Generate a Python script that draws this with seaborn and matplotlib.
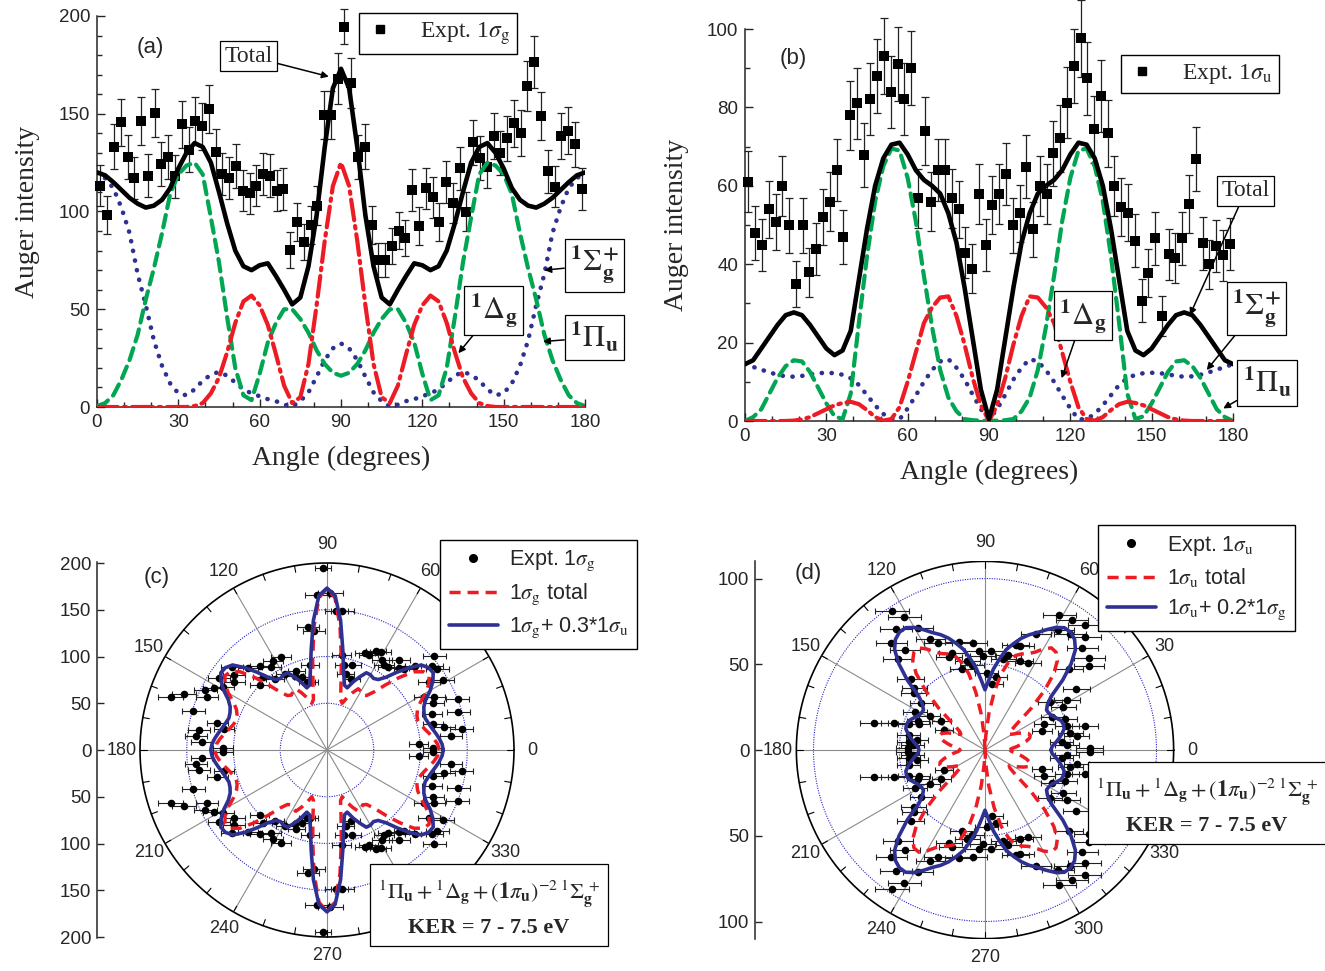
import numpy as np
import matplotlib
matplotlib.use("Agg")
import matplotlib.pyplot as plt
from matplotlib.lines import Line2D
from matplotlib.ticker import MultipleLocator
import seaborn as sns

sns.set_style("ticks")
plt.rcParams["font.family"] = ["Liberation Sans", "DejaVu Sans"]
plt.rcParams["mathtext.fontset"] = "stix"
SERIF = ["Liberation Serif", "DejaVu Serif"]

GREEN = "#00a651"
RED = "#ed1c24"
NAVY = "#2e3192"
RING = "#2323c8"

# ---------------- data ----------------
bin_deg = np.arange(1.25, 180, 2.5)      # 72 angular bins of the measurement
curve_deg = np.arange(0, 91, 3)          # model curves, symmetric about 90 deg

# (a) 1sigma_g
expt_a = [113.2, 98.2, 133.2, 145.6, 128, 117, 146.3, 118.3, 150.2, 124.3,
          128, 118, 144.6, 131.5, 146.3, 143.7, 152.3, 130.6, 119.2, 117.3,
          123.3, 110.5, 109.3, 113.2, 119.2, 118.3, 110.5, 111.4, 80.3, 94.8,
          84.2, 93.1, 103, 149.4, 149.4, 168, 194.5, 165.6, 128, 133.2,
          93.1, 75.2, 75.2, 82.4, 90.2, 86.3, 111, 92.6, 111.8, 107.2,
          94.4, 114.9, 104.5, 122.1, 99.9, 135.4, 127.5, 122.9, 138.6, 130,
          137.4, 145.1, 140, 164.2, 176.6, 148.8, 120.7, 112.7, 138.6, 141.3,
          134.4, 111.5]
err_a = [10.6, 9.9, 11.5, 12.1, 11.3, 10.8, 12.1, 10.9, 12.3, 11.1,
         11.3, 10.9, 12.0, 11.5, 12.1, 12.0, 12.3, 11.4, 10.9, 10.8,
         11.1, 10.5, 10.5, 10.6, 10.9, 10.9, 10.5, 10.6, 9.0, 9.7,
         9.2, 9.6, 10.1, 12.2, 12.2, 13.0, 9.0, 12.9, 11.3, 11.5,
         9.6, 8.7, 8.7, 9.1, 9.5, 9.3, 10.5, 9.6, 10.6, 10.4,
         9.7, 10.7, 10.2, 11.0, 10.0, 11.6, 11.3, 11.1, 11.8, 11.4,
         11.7, 12.0, 11.8, 12.8, 13.3, 12.2, 11.0, 10.6, 11.8, 11.9,
         11.6, 10.6]
total_a = [120, 118.5, 115, 111, 107, 104, 102, 103, 106, 112, 122, 130, 135, 133, 125, 110,
           94, 80, 72, 70, 72.5, 73.5, 67, 60, 52.5, 56, 72, 98, 133, 163, 173]
sigma_a = [120, 117, 112, 102, 89, 68, 52, 34, 21, 12, 7, 6, 9, 13.5, 16.5, 18,
           16, 12.5, 9, 7, 5.5, 4, 3, 1.2, 0.2, 3, 7.5, 15.5, 24, 30, 32.5]
pi_a = [0.5, 2, 6, 14, 24, 37, 55, 71, 89, 109, 119, 123.5, 125, 119, 97, 74,
        46, 20, 6, 3.5, 17, 33, 43, 50, 50, 45, 38, 29, 22, 17.5, 16]
delta_a = [0, 0, 0, 0, 0, 0, 0, 0, 0, 0, 0, 0, 0.5, 2, 7, 15,
           28, 43, 54, 57, 52, 42, 27, 11, 2, 5, 22, 52, 85, 113, 125]

# (b) 1sigma_u
expt_b = [61, 47.9, 44.9, 54, 50.8, 60, 49.9, 35, 49.9, 37.9,
          43.8, 52, 55.9, 64, 46.9, 78, 81, 67.9, 82.1, 88,
          93.1, 84, 91.1, 82.1, 90.1, 56.8, 74, 55.9, 64, 64,
          56.8, 54, 42.9, 38.9, 57.9, 44.9, 55.1, 57.9, 63, 49.9,
          53, 64.9, 48.9, 60, 57.9, 68.3, 72.1, 81.2, 90.6, 97.6,
          87.4, 74.4, 82.9, 73.4, 60, 54.7, 53.1, 46, 30.7, 37.7,
          46.6, 26.8, 42.5, 41.5, 46.6, 55.3, 66.8, 45.3, 40, 44.6,
          42.3, 45.2]
err_b = [7.8, 6.9, 6.7, 7.3, 7.1, 7.7, 7.1, 5.9, 7.1, 6.2,
         6.6, 7.2, 7.5, 8.0, 6.8, 8.8, 9.0, 8.2, 9.1, 9.4,
         9.6, 9.2, 9.5, 9.1, 9.5, 7.5, 8.6, 7.5, 8.0, 8.0,
         7.5, 7.3, 6.5, 6.2, 7.6, 6.7, 7.4, 7.6, 7.9, 7.1,
         7.3, 8.1, 7.0, 7.7, 7.6, 8.3, 8.5, 9.0, 9.5, 9.9,
         9.3, 8.6, 9.1, 8.6, 7.7, 7.4, 7.3, 6.8, 5.5, 6.1,
         6.8, 5.2, 6.5, 6.4, 6.8, 7.4, 8.2, 6.7, 6.3, 6.7,
         6.5, 6.7]
total_b = [14.5, 15.5, 18.5, 21.5, 24.5, 27, 27.7, 27, 24.5, 21.5, 18.5, 16.8, 18, 23, 36, 49,
           60, 67, 70.5, 71, 68, 64, 61.5, 60, 58, 53, 45.5, 34, 21, 8, 0.5]
sigma_b = [14.5, 13.8, 13.1, 12.4, 11.8, 11.4, 11.3, 11.5, 11.9, 12.2, 12.3, 12.2, 11.8, 10.9, 9.2, 6.6,
           4, 1.8, 0.5, 0.4, 3.2, 6.5, 10, 13, 15.2, 15.8, 13.6, 10.6, 6.7, 3, 0.5]
pi_b = [0, 1, 3, 7, 11, 14, 15.5, 15.2, 12.5, 8.5, 4.5, 1.2, 0.5, 7, 25, 42,
        56, 65, 69.5, 69, 62, 51, 37, 24, 13, 6, 2.5, 0.5, 0.2, 0.1, 0]
delta_b = [0, 0, 0, 0, 0, 0, 0.1, 0.4, 1, 2, 3, 4, 4.6, 4.9, 4.3, 2.8,
           1, 0.1, 0.5, 3.5, 10, 17.5, 25, 29, 31.5, 31.8, 26.8, 19.5, 11, 4, 0]

# polar mixing factors from the legends
mix_c = 0.3
mix_d = 0.2


def mirror(v):
    v = np.asarray(v, float)
    return np.concatenate([v, v[-2::-1]])


curve_full = np.concatenate([curve_deg, 180 - curve_deg[-2::-1]])

fig = plt.figure(figsize=(13.25, 9.71), dpi=100)
W, H = 1325.0, 971.0


def frac(x0, y0, x1, y1):
    return [x0 / W, 1 - y1 / H, (x1 - x0) / W, (y1 - y0) / H]


def line(ax, x, y, color, lw, ls, z=4):
    sns.lineplot(x=x, y=y, color=color, lw=lw, linestyle=ls, sort=False,
                 estimator=None, errorbar=None, ax=ax, zorder=z)


def label_box(ax, text, xy, xytext, size=22, family=None):
    ax.annotate(text, xy=xy, xytext=xytext, xycoords="data", textcoords="data",
                ha="center", va="center", fontsize=size, family=family,
                annotation_clip=False, zorder=6,
                bbox=dict(boxstyle="square,pad=0.18", fc="white", ec="k", lw=0.9),
                arrowprops=dict(arrowstyle="-|>", color="k", lw=1.1,
                                mutation_scale=10, shrinkA=0, shrinkB=0))


def angle_panel(ax, expt, err, total, sigma, pi, delta, ymax, ymaj, ymin):
    eb = ax.errorbar(bin_deg, expt, yerr=err, fmt="none", ecolor="#222222",
                     elinewidth=0.9, capsize=3.2, capthick=0.9, zorder=2)
    for art in list(eb.lines[1]) + list(eb.lines[2]):
        art.set_clip_on(False)
    sns.scatterplot(x=bin_deg, y=expt, marker="s", s=44, color="k",
                    linewidth=0, ax=ax, zorder=3, clip_on=False)
    line(ax, curve_full, mirror(sigma), NAVY, 3.3, (0, (0.05, 2.1)))
    line(ax, curve_full, mirror(pi), GREEN, 3.0, (0, (3.0, 1.7)))
    line(ax, curve_full, mirror(delta), RED, 3.0, (0, (5.0, 1.4, 0.6, 1.4)))
    line(ax, curve_full, mirror(total), "k", 3.3, "-", z=5)
    for l in ax.get_lines()[-4:-1]:
        l.set_dash_capstyle("round")
    ax.set_xlim(0, 180)
    ax.set_ylim(0, ymax)
    ax.xaxis.set_major_locator(MultipleLocator(30))
    ax.xaxis.set_minor_locator(MultipleLocator(10))
    ax.yaxis.set_major_locator(MultipleLocator(ymaj))
    ax.yaxis.set_minor_locator(MultipleLocator(ymin))
    ax.tick_params(which="major", direction="in", length=6, width=1, labelsize=13.5, pad=5)
    ax.tick_params(which="minor", direction="in", length=3.5, width=1)
    sns.despine(ax=ax)
    for s in ("left", "bottom"):
        ax.spines[s].set_linewidth(1.1)
    ax.set_xlabel("Angle (degrees)", family=SERIF, fontsize=20, labelpad=11)
    ax.set_ylabel("Auger intensity", family=SERIF, fontsize=20, labelpad=13)


# ---- (a) ----
ax_a = fig.add_axes(frac(97, 16, 585, 407))
angle_panel(ax_a, expt_a, err_a, total_a, sigma_a, pi_a, delta_a, 200, 50, 10)
ax_a.text(19.5, 184, "(a)", fontsize=16, ha="center", va="center")
label_box(ax_a, "Total", (85.5, 169), (56, 179.5), size=17, family=SERIF)
label_box(ax_a, r"$^{\mathbf{1}}\Sigma_{\mathbf{g}}^{\mathbf{+}}$", (165, 70), (183.5, 72.5))
label_box(ax_a, r"$^{\mathbf{1}}\Pi_{\mathbf{u}}$", (164.5, 33.5), (183.5, 35.5))
label_box(ax_a, r"$^{\mathbf{1}}\Delta_{\mathbf{g}}$", (133.3, 27.5), (146.3, 49.5))
sq = Line2D([], [], marker="s", color="k", ls="none", ms=6)
ax_a.legend([sq], [r"Expt. 1$\sigma_{\rm g}$"], loc="upper left",
            bbox_to_anchor=(359 / W, 1 - 13 / H), bbox_transform=fig.transFigure,
            borderaxespad=0, fancybox=False, edgecolor="k", framealpha=1,
            prop=dict(family=SERIF, size=17), handletextpad=1.1, borderpad=0.3,
            handlelength=1.2)

# ---- (b) ----
ax_b = fig.add_axes(frac(745, 29, 1233, 421))
angle_panel(ax_b, expt_b, err_b, total_b, sigma_b, pi_b, delta_b, 100, 20, 10)
ax_b.text(17.7, 92.5, "(b)", fontsize=16, ha="center", va="center")
label_box(ax_b, "Total", (164.1, 27), (184.7, 58.7), size=17, family=SERIF)
label_box(ax_b, r"$^{\mathbf{1}}\Delta_{\mathbf{g}}$", (116.8, 10.9), (124.7, 26.8))
label_box(ax_b, r"$^{\mathbf{1}}\Sigma_{\mathbf{g}}^{\mathbf{+}}$", (170.3, 13), (188.7, 28.6))
label_box(ax_b, r"$^{\mathbf{1}}\Pi_{\mathbf{u}}$", (176.4, 3.2), (192.5, 9.7))
ax_b.legend([sq], [r"Expt. 1$\sigma_{\rm u}$"], loc="upper left",
            bbox_to_anchor=(1121 / W, 1 - 55 / H), bbox_transform=fig.transFigure,
            borderaxespad=0, fancybox=False, edgecolor="k", framealpha=1,
            prop=dict(family=SERIF, size=17), handletextpad=1.1, borderpad=0.3,
            handlelength=1.2)


# ---- polar panels drawn on cartesian axes ----
def polar_panel(ax, rmax, rings, yt, expt, err, red_vals, blue_vals, hidden=()):
    t = np.linspace(0, 2 * np.pi, 721)
    ax.plot(rmax * np.cos(t), rmax * np.sin(t), color="k", lw=1.2, zorder=1)
    for r in rings:
        ax.plot(r * np.cos(t), r * np.sin(t), color=RING, lw=0.8,
                ls=(0, (1, 1.2)), zorder=1)
    for d in range(0, 360, 30):
        a = np.deg2rad(d)
        ax.plot([0, rmax * np.cos(a)], [0, rmax * np.sin(a)], color="#8a8a8a",
                lw=0.8, zorder=1)
        if d not in hidden:
            ax.text(1.1 * rmax * np.cos(a), 1.1 * rmax * np.sin(a), str(d),
                    ha="center", va="center", fontsize=13, zorder=1)
    for d in range(0, 360, 10):
        a = np.deg2rad(d)
        ax.plot([rmax * np.cos(a), 0.965 * rmax * np.cos(a)],
                [rmax * np.sin(a), 0.965 * rmax * np.sin(a)], color="k", lw=0.8, zorder=1)

    th = np.deg2rad(np.concatenate([bin_deg, -bin_deg]))
    r = np.concatenate([expt, expt])
    e = np.concatenate([err, err])
    x, y = r * np.cos(th), r * np.sin(th)
    ax.errorbar(x, y, xerr=e, fmt="none", ecolor="#222222", elinewidth=0.8,
                capsize=2.5, capthick=0.8, zorder=2)
    sns.scatterplot(x=x, y=y, marker="o", s=30, color="k", linewidth=0,
                    ax=ax, zorder=3)

    loop_deg = np.deg2rad(np.concatenate([curve_full, 360 - curve_full[-2::-1]]))
    red_loop = np.concatenate([red_vals, red_vals[-2::-1]])
    blue_loop = np.concatenate([blue_vals, blue_vals[-2::-1]])
    line(ax, red_loop * np.cos(loop_deg), red_loop * np.sin(loop_deg), RED, 2.5,
         (0, (3.2, 2.0)))
    line(ax, blue_loop * np.cos(loop_deg), blue_loop * np.sin(loop_deg), NAVY, 2.6, "-")

    ax.set_yticks(yt)
    ax.set_yticklabels([str(abs(v)) for v in yt])
    ax.set_xticks([])
    ax.tick_params(axis="y", direction="in", length=5, width=1, labelsize=13.5, pad=4)
    for s in ("top", "right", "bottom"):
        ax.spines[s].set_visible(False)
    ax.spines["left"].set_linewidth(1.1)


leg_kw = dict(loc="upper left", bbox_transform=fig.transFigure, borderaxespad=0,
              fancybox=False, edgecolor="k", framealpha=1, fontsize=15.5,
              handlelength=2.3, handletextpad=0.5, labelspacing=0.4, borderpad=0.4)

ax_c = fig.add_axes(frac(97, 562, 560, 938))
ax_c.set_xlim(-230 / 0.935, 233 / 0.935)
ax_c.set_ylim(-188 / 0.935, 188 / 0.935)
red_c = mirror(total_a)
blue_c = mirror(total_a) + mix_c * mirror(total_b)
polar_panel(ax_c, 200, [50, 100, 150], [-200, -150, -100, -50, 0, 50, 100, 150, 200],
            expt_a, err_a, red_c, blue_c, hidden=(30, 300))
fig.text(157 / W, 1 - 577 / H, "(c)", fontsize=16, ha="center", va="center")
hd_c = [Line2D([], [], marker="o", color="k", ls="none", ms=5.5),
        Line2D([], [], color=RED, lw=2.5, ls=(0, (3.2, 2.0))),
        Line2D([], [], color=NAVY, lw=2.6)]
ax_c.legend(hd_c, [r"Expt. 1$\sigma_{\rm g}$", r"1$\sigma_{\rm g}$ total",
                   r"1$\sigma_{\rm g}$+ 0.3*1$\sigma_{\rm u}$"],
            bbox_to_anchor=(440 / W, 1 - 540 / H), **leg_kw)

ax_d = fig.add_axes(frac(755, 561.35, 1215, 938.65))
ax_d.set_xlim(-230 / 1.715, 230 / 1.715)
ax_d.set_ylim(-110, 110)
red_d = mirror(total_b)
blue_d = mirror(total_b) + mix_d * mirror(total_a)
polar_panel(ax_d, 110, [50, 100], [-100, -50, 0, 50, 100],
            expt_b, err_b, red_d, blue_d)
fig.text(808 / W, 1 - 573 / H, "(d)", fontsize=16, ha="center", va="center")
ax_d.legend(hd_c, [r"Expt. 1$\sigma_{\rm u}$", r"1$\sigma_{\rm u}$ total",
                   r"1$\sigma_{\rm u}$+ 0.2*1$\sigma_{\rm g}$"],
            bbox_to_anchor=(1098 / W, 1 - 525 / H), **leg_kw)

ker = (r"$^{1}\Pi_{\mathbf{u}} + {}^{1}\Delta_{\mathbf{g}} + (\mathbf{1}\pi_{\mathbf{u}})^{-2}\,"
       r"{}^{1}\Sigma_{\mathbf{g}}^{\;+}$" + "\nKER = 7 - 7.5 eV")
for cx, cy in [(489, 908), (1207, 806)]:
    fig.text(cx / W, 1 - cy / H, ker, ha="center", va="center", fontsize=16,
             family=SERIF, weight="bold", linespacing=1.6, zorder=10,
             bbox=dict(boxstyle="square,pad=0.35", fc="white", ec="k", lw=0.9))

fig.savefig("out.png", dpi=100)
